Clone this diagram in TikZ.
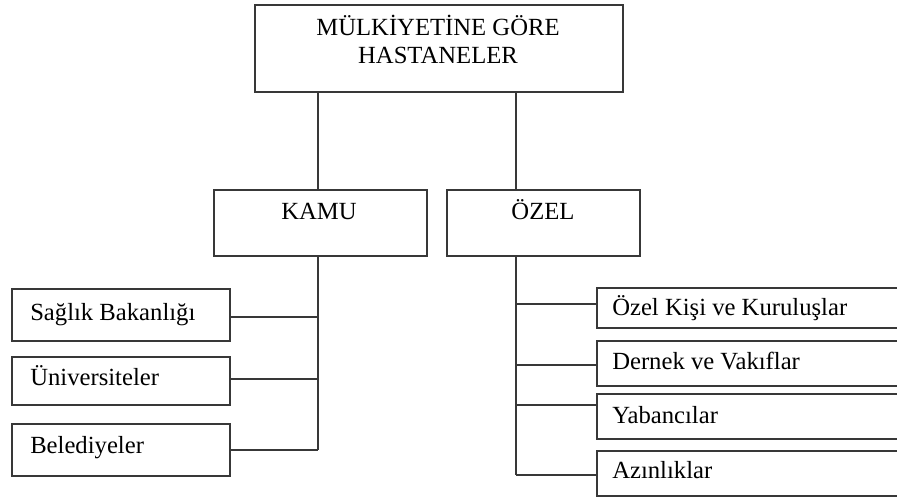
\documentclass[tikz,border=0pt]{standalone}
\usepackage{fontspec}
\setmainfont{Liberation Serif}
\usetikzlibrary{fit}

\definecolor{rule}{HTML}{383838}

\tikzset{
  box/.style={draw=rule, line width=1.1pt, inner sep=0pt, fill=white},
  link/.style={draw=rule, line width=1.1pt},
  lbl/.style={inner sep=0pt, font=\fontsize{18.5}{21}\selectfont, text=black},
}

\begin{document}
\begin{tikzpicture}[x=0.75pt, y=-0.75pt]
  \useasboundingbox (0,0) rectangle (897,497);

  % boxes
  \node[box, fit={(255,5) (623,92)}]    (top) {};
  \node[box, fit={(214,190) (427,256)}] (kamu) {};
  \node[box, fit={(447,190) (640,256)}] (ozel) {};

  \node[box, fit={(12,289) (230,341)}]  (sag) {};
  \node[box, fit={(12,357) (230,405)}]  (uni) {};
  \node[box, fit={(12,424) (230,476)}]  (bel) {};

  \node[box, fit={(597,288) (905,328)}] (kis) {};
  \node[box, fit={(597,341) (905,386)}] (der) {};
  \node[box, fit={(597,394) (905,439)}] (yab) {};
  \node[box, fit={(597,451) (905,496)}] (azi) {};

  % labels
  \node[lbl, anchor=base] (t1) at (438,35) {MÜLKİYETİNE GÖRE};
  \node[lbl, anchor=base] (t2) at (438,63) {HASTANELER};
  \node[lbl, anchor=base] (tk) at (319,219) {KAMU};
  \node[lbl, anchor=base] (to) at (543,219) {ÖZEL};

  \node[lbl, anchor=base west] (ts) at (30,320) {Sağlık Bakanlığı};
  \node[lbl, anchor=base west] (tu) at (30,385) {Üniversiteler};
  \node[lbl, anchor=base west] (tb) at (30,453) {Belediyeler};

  \node[lbl, anchor=base west] (tki) at (612,315) {Özel Kişi ve Kuruluşlar};
  \node[lbl, anchor=base west] (tde) at (612,369) {Dernek ve Vakıflar};
  \node[lbl, anchor=base west] (tya) at (612,423) {Yabancılar};
  \node[lbl, anchor=base west] (taz) at (612,478) {Azınlıklar};

  % trunk positions
  \coordinate (kt) at (318,0);
  \coordinate (ot) at (516,0);

  % top level
  \draw[link] (kt |- top.south) -- (kt |- kamu.north);
  \draw[link] (ot |- top.south) -- (ot |- ozel.north);

  % public branch
  \coordinate (kend) at (318,450);
  \draw[link] (kt |- kamu.south) -- (kend);
  \draw[link] ([yshift=-1.5pt]sag.east) -- ([yshift=-1.5pt]kt |- sag.east);
  \draw[link] ([yshift=1.5pt]uni.east) -- ([yshift=1.5pt]kt |- uni.east);
  \draw[link] (bel.east) -- (kend);

  % private branch
  \coordinate (oend) at (516,475);
  \draw[link] (ot |- ozel.south) -- (oend);
  \draw[link] ([yshift=3pt]kis.west) -- ([yshift=3pt]ot |- kis.west);
  \draw[link] ([yshift=-1pt]der.west) -- ([yshift=-1pt]ot |- der.west);
  \draw[link] ([yshift=8.6pt]yab.west) -- ([yshift=8.6pt]ot |- yab.west);
  \draw[link] (oend) -- (oend -| azi.west);
\end{tikzpicture}
\end{document}
